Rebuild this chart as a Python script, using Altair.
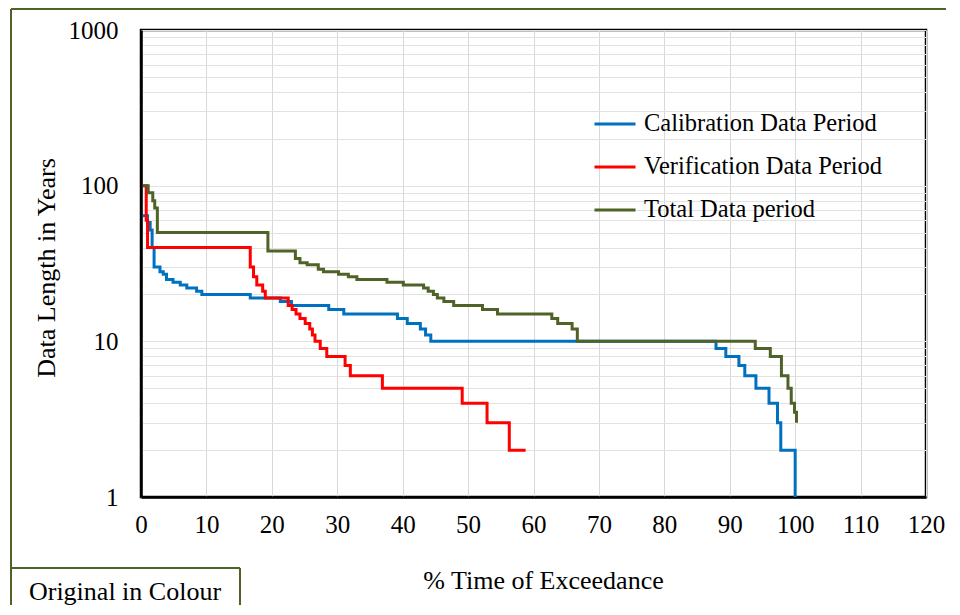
import altair as alt
import pandas as pd

# ---- data ----
series_names = ["Calibration Data Period", "Verification Data Period", "Total Data period"]
series_colors = ["#0070c0", "#ff0000", "#4f6228"]

calib_x = [0.3, 1.0, 1.4, 1.7, 2.0, 2.9, 3.4, 3.9, 4.9, 6.0, 7.0, 8.5, 9.3, 16.7, 21.3, 23.0,
           28.7, 31.0, 39.2, 40.7, 42.7, 43.5, 44.3, 87.9, 89.4, 91.4, 92.3, 94.0, 96.0, 97.3,
           97.8, 100.0]
calib_y = [64, 58, 52, 40, 30, 28, 27, 25, 24, 23, 22, 21, 20, 19, 18, 17,
           16, 15, 14, 13, 12, 11, 10, 9, 8, 7, 6, 5, 4, 3,
           2, 1]

verif_x = [0.3, 0.8, 1.0, 16.7, 17.2, 17.7, 18.6, 19.0, 22.5, 23.1, 23.7, 24.3, 25.1, 25.8,
           26.2, 26.6, 27.4, 28.4, 31.2, 32.0, 36.9, 49.1, 52.9, 56.3, 58.8]
verif_y = [100, 60, 40, 30, 26, 23, 21, 19, 17, 16, 15, 14, 13, 12,
           11, 10, 9, 8, 7, 6, 5, 4, 3, 2, 2]

total_x = [0.35, 1.1, 1.8, 2.1, 2.5, 19.4, 23.6, 24.3, 25.4, 27.1, 27.9, 30.2, 31.7, 33.0,
           37.6, 40.1, 43.2, 43.9, 44.7, 45.3, 46.3, 47.8, 52.2, 54.5, 62.8, 63.7, 65.9,
           66.7, 93.9, 96.2, 97.9, 98.9, 99.4, 99.9, 100.2]
total_y = [100, 90, 80, 72, 50, 38, 34, 32, 31, 29, 28, 27, 26, 25,
           24, 23, 22, 21, 20, 19, 18, 17, 16, 15, 14, 13, 12,
           10, 9, 8, 6, 5, 4, 3.5, 3]

x_ticks = list(range(0, 121, 10))
y_grid = [m * 10 ** e for e in range(0, 3) for m in range(1, 10)] + [1000]

rows = []
for name, xs, ys in zip(series_names, [calib_x, verif_x, total_x], [calib_y, verif_y, total_y]):
    for i, (a, b) in enumerate(zip(xs, ys)):
        rows.append({"series": name, "x": a, "y": b, "i": i})
df = pd.DataFrame(rows)

FONT = "Liberation Serif"
FRAME = "#4f6228"

lines = alt.Chart(df).mark_line(interpolate="step-after", strokeWidth=3).encode(
    x=alt.X("x:Q", scale=alt.Scale(domain=[0, 120], nice=False),
            axis=alt.Axis(values=x_ticks, format="d", title="% Time of Exceedance",
                          titleX=402, titleY=91, titleBaseline="alphabetic",
                          titleAlign="center", titleAnchor=None)),
    y=alt.Y("y:Q", scale=alt.Scale(type="log", domain=[1, 1000], nice=False),
            axis=alt.Axis(values=y_grid, title="Data Length in Years",
                          labelExpr="(datum.value==1||datum.value==10||datum.value==100||datum.value==1000) ? format(datum.value,'d') : ''",
                          titleX=-87, titleY=237.5, titleBaseline="alphabetic",
                          titleAngle=-90, titleAlign="center", titleAnchor=None)),
    color=alt.Color("series:N", sort=series_names,
                    scale=alt.Scale(domain=series_names, range=series_colors),
                    legend=alt.Legend(title=None, orient="none", legendX=452, legendY=72,
                                      symbolType="stroke", symbolStrokeWidth=3,
                                      symbolSize=1681, labelFont=FONT, labelFontSize=24.5,
                                      labelColor="black", labelOffset=7, rowPadding=9,
                                      labelLimit=500, padding=0)),
    order="i:Q",
    detail="series:N",
)

one = pd.DataFrame({"a": [0]})
frame_top = alt.Chart(one).mark_rule(color=FRAME, strokeWidth=2).encode(
    x=alt.value(-130), x2=alt.value(830), y=alt.value(-21), y2=alt.value(-21))
frame_left = alt.Chart(one).mark_rule(color=FRAME, strokeWidth=2).encode(
    x=alt.value(-130), x2=alt.value(-130), y=alt.value(-21), y2=alt.value(590))
box_top = alt.Chart(one).mark_rule(color=FRAME, strokeWidth=2).encode(
    x=alt.value(-130), x2=alt.value(99), y=alt.value(538), y2=alt.value(538))
box_right = alt.Chart(one).mark_rule(color=FRAME, strokeWidth=2).encode(
    x=alt.value(99), x2=alt.value(99), y=alt.value(538), y2=alt.value(590))
box_text = alt.Chart(pd.DataFrame({"t": ["Original in Colour"]})).mark_text(
    font=FONT, fontSize=26, color="black", baseline="alphabetic", align="center").encode(
    x=alt.value(-16), y=alt.value(570), text="t:N")

chart = alt.layer(lines, frame_top, frame_left, box_top, box_right, box_text).properties(
    width=785, height=467,
    autosize=alt.AutoSizeParams(type="none"),
    padding={"left": 133, "top": 22, "right": 20, "bottom": 108},
    background="white",
).configure_view(stroke="black", strokeWidth=2.5).configure_axis(
    grid=True, gridColor="#e2e2e2", gridWidth=1, tickSize=0,
    domainColor="black", domainWidth=2.5, labelFlush=False,
    labelFont=FONT, labelFontSize=25, labelColor="black",
    titleFont=FONT, titleFontSize=26, titleFontWeight="normal", titleColor="black",
).configure_axisX(labelPadding=15, gridColor="#d9d9d9").configure_axisY(labelPadding=23)

chart.save("out.html", embed_options={"renderer": "svg", "actions": False})
